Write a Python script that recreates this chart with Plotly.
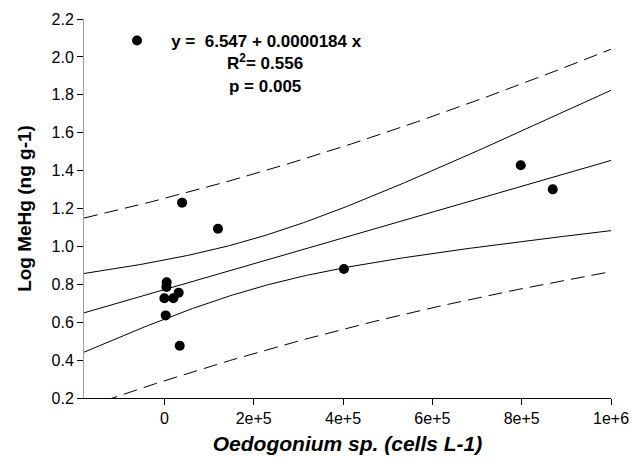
import numpy as np
import plotly.graph_objects as go

# Data
cells = [0, 2900, 4500, 5100, 20100, 32000, 34300, 39600, 120000, 402000, 798000, 869600]
log_mehg = [0.726, 0.636, 0.786, 0.811, 0.726, 0.756, 0.476, 1.231, 1.093, 0.881, 1.428, 1.301]

x_ticks = [0, 200000, 400000, 600000, 800000, 1000000]
x_tick_labels = ["0", "2e+5", "4e+5", "6e+5", "8e+5", "1e+6"]
y_ticks = [0.2, 0.4, 0.6, 0.8, 1.0, 1.2, 1.4, 1.6, 1.8, 2.0, 2.2]
x_range = [-180000, 1000000]
y_range = [0.2, 2.2]

eq_text = "y =  6.547 + 0.0000184 x"
r2_text = "R<sup>2</sup>= 0.556"
p_text = "p = 0.005"

# OLS fit with 95% confidence and prediction bands
x = np.array(cells, dtype=float)
y = np.array(log_mehg, dtype=float)
n = len(x)
slope, intercept = np.polyfit(x, y, 1)
resid = y - (intercept + slope * x)
s = np.sqrt(np.sum(resid ** 2) / (n - 2))
t_crit = 2.228  # t(0.975, df=10)
sxx = np.sum((x - x.mean()) ** 2)
xg = np.linspace(x_range[0], x_range[1], 200)
yg = intercept + slope * xg
ci = t_crit * s * np.sqrt(1 / n + (xg - x.mean()) ** 2 / sxx)
pi = t_crit * s * np.sqrt(1 + 1 / n + (xg - x.mean()) ** 2 / sxx)

FONT = "Liberation Sans, Arial"
fig = go.Figure()
line_solid = dict(color="black", width=1)
line_dash = dict(color="black", width=1, dash="14px,7px")
for yy, ln in [(yg + pi, line_dash), (yg - pi, line_dash),
               (yg + ci, line_solid), (yg - ci, line_solid), (yg, line_solid)]:
    fig.add_trace(go.Scatter(x=xg, y=yy, mode="lines", line=ln,
                             showlegend=False, hoverinfo="skip"))

fig.add_trace(go.Scatter(x=cells, y=log_mehg, mode="markers",
                         marker=dict(color="black", size=10),
                         name="\u00a0\u00a0\u00a0" + eq_text, showlegend=True))

for txt, yc in [(r2_text, 62), (p_text, 86)]:
    fig.add_annotation(text="<b>" + txt + "</b>", xref="paper", yref="paper",
                       x=(265 - 84) / 527, y=(398 - yc) / 379, showarrow=False,
                       font=dict(family=FONT, size=17, color="black"),
                       xanchor="center", yanchor="middle")

fig.update_layout(
    width=633, height=465,
    margin=dict(l=84, r=22, t=19, b=67),
    paper_bgcolor="white", plot_bgcolor="white",
    font=dict(family=FONT, size=16, color="black"),
    legend=dict(x=(117 - 84) / 527, y=(398 - 41) / 379, xanchor="left", yanchor="middle",
                bgcolor="rgba(0,0,0,0)", borderwidth=0,
                font=dict(family=FONT, size=17, color="black", weight="bold")),
    xaxis=dict(range=x_range, tickvals=x_ticks, ticktext=x_tick_labels, automargin=False,
               ticklabeloverflow="allow",
               showgrid=False, zeroline=False, showline=True, linecolor="black",
               linewidth=1, ticks="outside", ticklen=6, tickcolor="black",
               title=dict(text="<b><i>Oedogonium sp. (cells L-1)</i></b>",
                          font=dict(size=21), standoff=10)),
    yaxis=dict(range=y_range, tickvals=y_ticks, tickformat=".1f", automargin=False,
               showgrid=False, zeroline=False, showline=True, linecolor="#a0a0a0",
               linewidth=1, ticks="outside", ticklen=6, tickcolor="black",
               title=dict(text="<b>Log MeHg (ng g-1)</b>", font=dict(size=19), standoff=14)),
)

fig.write_html("out.html", config={"displayModeBar": False},
               post_script="document.body.style.margin='0';")
